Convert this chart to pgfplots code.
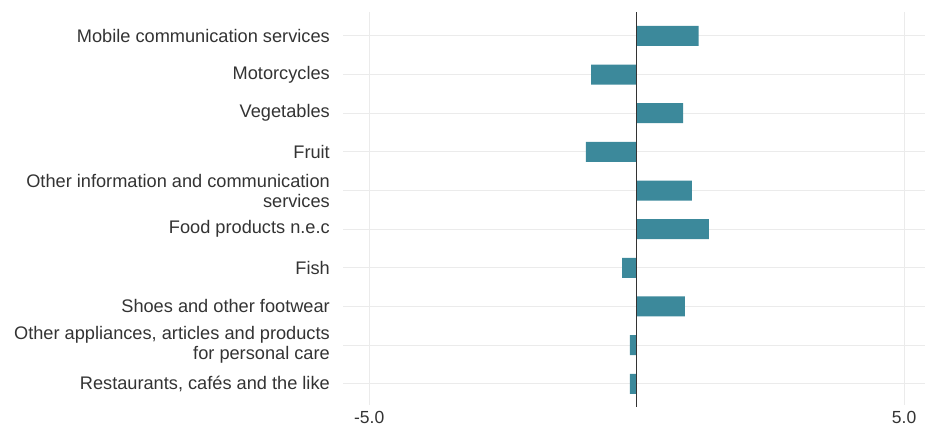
\documentclass[border=0pt]{standalone}
\usepackage{pgfplots}
\pgfplotsset{compat=1.18}
\usepackage{fontspec}
\setmainfont{Liberation Sans}
\definecolor{barc}{HTML}{3C899B}
\definecolor{gridc}{HTML}{EBEBEB}
\begin{document}
\begin{tikzpicture}
\begin{axis}[
  name=ax,
  scale only axis,
  width=582pt, height=393pt,
  xmin=-5.49, xmax=5.39,
  ymin=-0.62, ymax=9.55,
  y dir=reverse,
  axis line style={draw=none},
  xtick={-5,5}, xticklabels={-5.0,5.0},
  ytick={0,...,9},
  yticklabels={Mobile communication services,Motorcycles,Vegetables,Fruit,{Other information and communication\\services},Food products n.e.c,Fish,Shoes and other footwear,{Other appliances, articles and products\\for personal care},{Restaurants, cafés and the like}},
  yticklabel style={align=right, font=\fontsize{18.2}{20}\selectfont, text=black!80, inner sep=0pt, xshift=-13pt},
  xticklabel style={font=\fontsize{17.5}{20}\selectfont, text=black!80, inner sep=0pt, yshift=-6pt},
  major tick length=0pt,
  grid=major,
  major grid style={gridc, line width=1pt},
  xbar, bar width=20pt, bar shift=0pt,
  clip=false,
]
\addplot[fill=barc, draw=none] coordinates {
(1.16,0) (-0.85,1) (0.87,2) (-0.95,3) (1.03,4) (1.35,5) (-0.27,6) (0.90,7) (-0.125,8) (-0.125,9)
};
\draw[black!80, line width=1.1pt] (axis cs:0,-0.62) -- (axis cs:0,9.6);
\end{axis}
\path (ax.south west) ++(-343pt,-23pt) rectangle ++(926pt,428pt);
\end{tikzpicture}
\end{document}
